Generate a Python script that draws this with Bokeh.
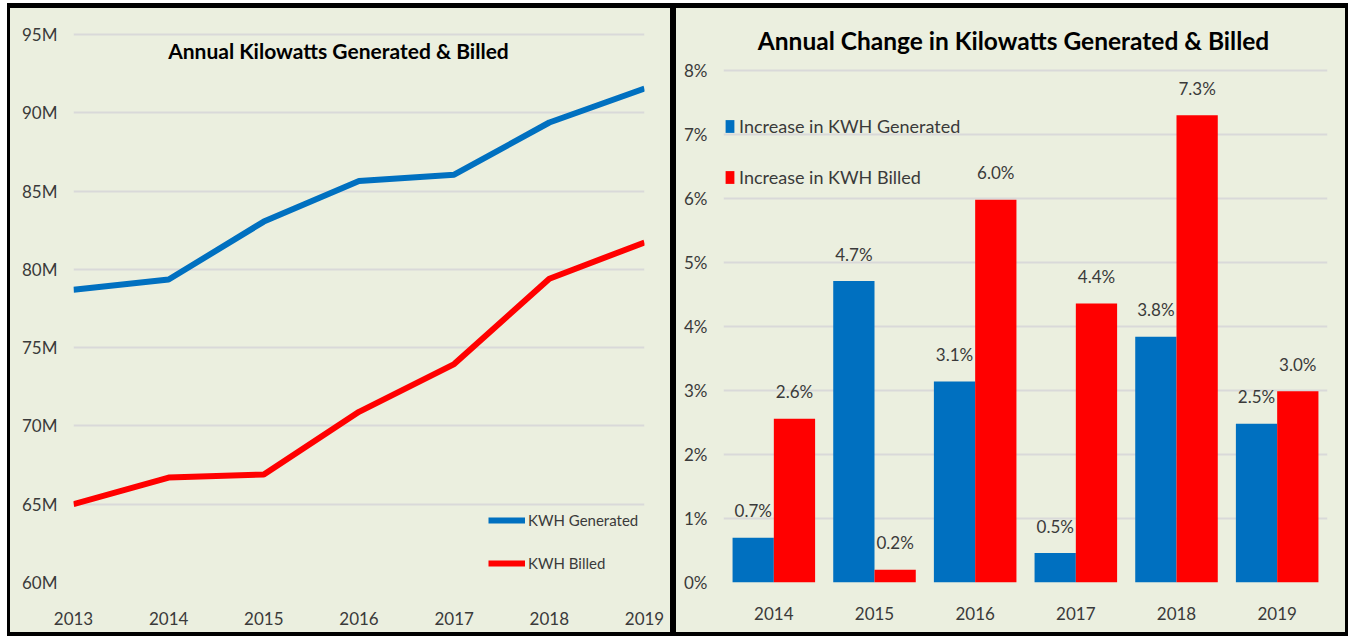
from bokeh.plotting import figure
from bokeh.layouts import row
from bokeh.models import (Range1d, FactorRange, SingleIntervalTicker, PrintfTickFormatter,
                          ColumnDataSource, LabelSet, Label)
from bokeh.transform import dodge
from bokeh.core.properties import value
from bokeh.embed import file_html
from bokeh.resources import INLINE

# ---------------- data ----------------
line_years = [2013, 2014, 2015, 2016, 2017, 2018, 2019]
kwh_generated_m = [78.7, 79.35, 83.05, 85.65, 86.05, 89.38, 91.55]
kwh_billed_m = [65.0, 66.7, 66.9, 70.9, 73.95, 79.4, 81.72]

bar_years = ["2014", "2015", "2016", "2017", "2018", "2019"]
inc_generated = [0.70, 4.71, 3.14, 0.46, 3.84, 2.48]
inc_billed = [2.56, 0.20, 5.98, 4.36, 7.30, 2.99]

left_title = "Annual  Kilowatts Generated & Billed"
right_title = "Annual Change in Kilowatts Generated & Billed"

# ---------------- style ----------------
BG = "#EBEFDF"
GRID = "#D9D9D9"
BLUE = "#0070C0"
RED = "#FF0000"
FONT = "Lato"
TXT = "#3A3A3A"
TOP, BOTTOM = 16, 50  # shared so the two frames line up the same way


def style_axes(p):
    for ax in (p.xaxis[0], p.yaxis[0]):
        ax.axis_line_color = None
        ax.major_tick_line_color = None
        ax.minor_tick_line_color = None
        ax.major_label_text_font = FONT
        ax.major_label_text_font_size = "17px"
        ax.major_label_text_color = TXT
    p.xgrid.grid_line_color = None
    p.ygrid.grid_line_color = GRID
    p.ygrid.grid_line_width = 2
    p.background_fill_color = BG
    p.border_fill_color = BG
    p.outline_line_color = None
    p.styles = {"background-color": BG}


# ---------------- left: lines ----------------
p1 = figure(width=660, height=624, output_backend="svg", toolbar_location=None,
            x_range=Range1d(2013, 2019), y_range=Range1d(60, 95.639),
            min_border_left=63, min_border_right=26, min_border_top=TOP, min_border_bottom=BOTTOM)
p1.line(line_years, kwh_generated_m, line_color=BLUE, line_width=6, line_join="round",
        legend_label="KWH Generated")
p1.line(line_years, kwh_billed_m, line_color=RED, line_width=6, line_join="round",
        legend_label="KWH Billed")
style_axes(p1)
p1.xaxis.ticker = SingleIntervalTicker(interval=1)
p1.yaxis.ticker = SingleIntervalTicker(interval=5)
p1.yaxis.formatter = PrintfTickFormatter(format="%dM")
p1.xaxis.major_label_standoff = 23
p1.yaxis.major_label_standoff = 10
p1.add_layout(Label(x=2016, y=95, x_offset=-18, y_offset=-16, text=left_title,
                    text_font=FONT, text_font_size="21px", text_font_style="bold",
                    text_color="black", text_align="center", text_baseline="middle"))
lg1 = p1.legend[0]
lg1.location = (415, 8)
lg1.padding = 0
lg1.margin = 0
lg1.spacing = 21
lg1.label_height = 22
lg1.glyph_width = 37
lg1.glyph_height = 22
lg1.label_standoff = 3
lg1.label_text_font = FONT
lg1.label_text_font_size = "15px"
lg1.label_text_color = TXT
lg1.border_line_color = None
lg1.background_fill_alpha = 0

# ---------------- right: bars ----------------
src = ColumnDataSource(dict(
    year=bar_years,
    gen=inc_generated,
    bil=inc_billed,
    gen_lbl=[f"{v:.1f}%" for v in inc_generated],
    bil_lbl=[f"{v:.1f}%" for v in inc_billed],
))
p2 = figure(width=669, height=624, output_backend="svg", toolbar_location=None,
            x_range=FactorRange(*bar_years), y_range=Range1d(0, 8.71875),
            min_border_left=47, min_border_right=18, min_border_top=TOP, min_border_bottom=BOTTOM)
p2.vbar(x=dodge("year", -0.205, range=p2.x_range), top="gen", width=0.41, source=src,
        fill_color=BLUE, line_color=None, legend_label="Increase in KWH Generated")
p2.vbar(x=dodge("year", 0.205, range=p2.x_range), top="bil", width=0.41, source=src,
        fill_color=RED, line_color=None, legend_label="Increase in KWH Billed")
style_axes(p2)
p2.yaxis.ticker = SingleIntervalTicker(interval=1)
p2.yaxis.formatter = PrintfTickFormatter(format="%d%%")
p2.xaxis.major_label_standoff = 18
p2.yaxis.major_label_standoff = 10
for col, lbl, off in (("gen", "gen_lbl", -0.205), ("bil", "bil_lbl", 0.205)):
    p2.add_layout(LabelSet(x=dodge("year", off, range=p2.x_range), y=col, text=lbl, source=src,
                           y_offset=27, text_align="center", text_baseline="middle",
                           text_font=value(FONT), text_font_size="17px", text_color=TXT))
p2.add_layout(Label(x=3, y=8.71875, x_offset=-12, y_offset=-16, text=right_title,
                    text_font=FONT, text_font_size="24.5px", text_font_style="bold",
                    text_color="black", text_align="center", text_baseline="middle"))
lg2 = p2.legend[0]
lg2.location = (1, 393)
lg2.padding = 0
lg2.margin = 0
lg2.spacing = 27
lg2.label_height = 24
lg2.glyph_width = 11
lg2.glyph_height = 16
lg2.label_standoff = 4
lg2.label_text_font = FONT
lg2.label_text_font_size = "18px"
lg2.label_text_color = TXT
lg2.border_line_color = None
lg2.background_fill_alpha = 0

p1.margin = (5, 1, 4, 3)
p2.margin = (5, 3, 4, 5)
layout = row(p1, p2, styles={"background-color": "black"})
layout.margin = (3, 3, 0, 7)

open("out.html", "w").write(file_html(layout, INLINE))
